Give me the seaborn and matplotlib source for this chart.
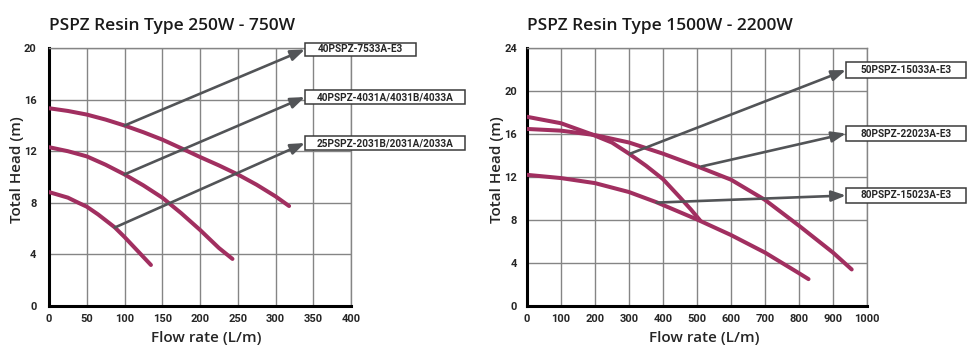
import matplotlib
matplotlib.use("Agg")
import matplotlib.pyplot as plt
import pandas
import seaborn as sns
from matplotlib.patches import Rectangle

# ---- left chart data (250W - 750W) ----
left_title = "PSPZ Resin Type 250W - 750W"
left_names = ["40PSPZ-7533A-E3", "40PSPZ-4031A/4031B/4033A", "25PSPZ-2031B/2031A/2033A"]
left_flow = [
    [0, 25, 50, 75, 100, 125, 150, 177, 200, 225, 250, 275, 300, 318],
    [0, 25, 50, 75, 100, 125, 150, 175, 200, 225, 243],
    [0, 25, 39, 50, 65, 87, 100, 135],
]
left_head = [
    [15.33, 15.12, 14.84, 14.45, 13.99, 13.47, 12.9, 12.18, 11.55, 10.9, 10.2, 9.4, 8.5, 7.75],
    [12.31, 12.0, 11.6, 10.95, 10.2, 9.35, 8.4, 7.2, 5.9, 4.5, 3.65],
    [8.83, 8.4, 8.0, 7.7, 7.1, 6.1, 5.35, 3.18],
]
# arrow tail on each curve
left_arrow_from = [(100, 13.99), (100, 10.2), (87, 6.08)]
left_xticks = [0, 50, 100, 150, 200, 250, 300, 350, 400]
left_yticks = [0, 4, 8, 12, 16, 20]

# ---- right chart data (1500W - 2200W) ----
right_title = "PSPZ Resin Type 1500W - 2200W"
right_names = ["50PSPZ-15033A-E3", "80PSPZ-22023A-E3", "80PSPZ-15023A-E3"]
right_flow = [
    [0, 100, 188, 250, 300, 350, 400, 450, 482, 508],
    [0, 100, 200, 300, 400, 500, 600, 700, 800, 900, 955],
    [0, 100, 200, 300, 381, 500, 600, 700, 800, 828],
]
right_head = [
    [17.6, 17.0, 16.0, 15.2, 14.17, 13.05, 11.8, 10.1, 8.98, 8.0],
    [16.47, 16.31, 15.9, 15.21, 14.17, 13.0, 11.75, 9.87, 7.47, 4.97, 3.4],
    [12.2, 11.9, 11.43, 10.6, 9.65, 8.05, 6.6, 4.97, 3.05, 2.5],
]
right_arrow_from = [(302, 14.15), (513, 12.98), (381, 9.62)]
right_xticks = [0, 100, 200, 300, 400, 500, 600, 700, 800, 900, 1000]
right_yticks = [0, 4, 8, 12, 16, 20, 24]

CURVE = "#a12f60"
ARROW = "#525457"
GRID = "#858585"

sns.set_style("white")
plt.rcParams["font.family"] = ["Open Sans", "DejaVu Sans"]
TICKFONT = ["Roboto", "DejaVu Sans"]


def draw_panel(fig, rect, title, names, flows, heads, arrow_from,
               xticks, yticks, boxes, ypad):
    ax = fig.add_axes(rect)
    for name, fx, hy in zip(names, flows, heads):
        df = pandas.DataFrame({"flow": fx, "head": hy})
        sns.lineplot(data=df, x="flow", y="head", ax=ax, color=CURVE,
                     linewidth=2.9, solid_capstyle="round",
                     solid_joinstyle="round", sort=False, zorder=3)

    ax.set_xlim(xticks[0], xticks[-1])
    ax.set_ylim(yticks[0], yticks[-1])
    ax.set_xticks(xticks)
    ax.set_yticks(yticks)
    ax.grid(True, color=GRID, linewidth=1.0)
    ax.set_axisbelow(True)
    for side in ["top", "right"]:
        ax.spines[side].set_color(GRID)
        ax.spines[side].set_linewidth(1.0)
    for side in ["left", "bottom"]:
        ax.spines[side].set_color("black")
        ax.spines[side].set_linewidth(2.2)
    ax.tick_params(axis="x", length=0, pad=6)
    ax.tick_params(axis="y", length=0, pad=ypad)
    for lbl in ax.get_xticklabels() + ax.get_yticklabels():
        lbl.set_fontweight("bold")
        lbl.set_fontfamily(TICKFONT)
        lbl.set_fontsize(8)
    ax.set_xlabel("Flow rate (L/m)", fontsize=11, fontweight="semibold")
    ax.xaxis.set_label_coords(0.52, -0.095)
    ax.set_ylabel("Total Head (m)", fontsize=11, fontweight="semibold")
    ax.set_title(title, fontsize=12.5, fontweight="semibold", loc="left",
                 x=0.0, pad=13, color="#1a1a1a")

    # label boxes with arrows
    for name, start, (bx0, bx1, by0, by1) in zip(names, arrow_from, boxes):
        ymid = (by0 + by1) / 2
        ax.annotate("", xy=(bx0, ymid), xytext=start, annotation_clip=False,
                    arrowprops=dict(arrowstyle="-|>,head_width=0.32,head_length=0.85",
                                    color=ARROW, lw=1.9, shrinkA=0, shrinkB=0),
                    zorder=4)
        ax.add_patch(Rectangle((bx0, by0), bx1 - bx0, by1 - by0, facecolor="white",
                               edgecolor="#3a3a3a", linewidth=1.1, clip_on=False,
                               zorder=5))
        ax.text((bx0 + bx1) / 2, ymid, name, ha="center", va="center",
                fontsize=7.2, fontweight="bold", family=TICKFONT,
                zorder=6, clip_on=False)
    return ax


fig = plt.figure(figsize=(9.74, 3.52), dpi=100)

ax1 = draw_panel(fig, [49 / 974, 46 / 352, 302 / 974, 258 / 352], left_title,
                 left_names, left_flow, left_head, left_arrow_from,
                 left_xticks, left_yticks,
                 [(339, 486, 19.38, 20.39), (339, 551, 15.66, 16.74), (339, 551, 12.09, 13.18)],
                 ypad=9)
ax1.yaxis.set_label_coords(-0.083, 0.53)

ax2 = draw_panel(fig, [527 / 974, 46 / 352, 340 / 974, 258 / 352], right_title,
                 right_names, right_flow, right_head, right_arrow_from,
                 right_xticks, right_yticks,
                 [(938, 1291, 21.2, 22.7), (938, 1291, 15.35, 16.74), (938, 1291, 9.58, 10.98)],
                 ypad=7)
ax2.yaxis.set_label_coords(-0.068, 0.53)

fig.savefig("out.png", dpi=100)
